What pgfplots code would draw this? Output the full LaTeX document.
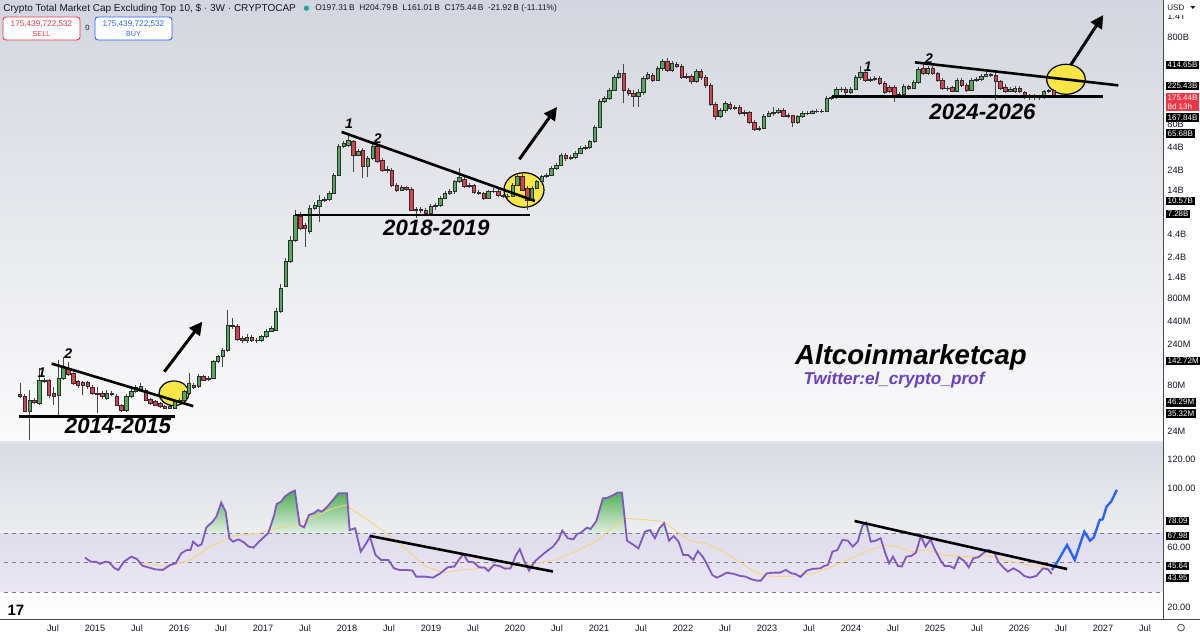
\documentclass[border=0pt]{standalone}
\usepackage{fontspec}
\setmainfont{Liberation Sans}
\usepackage{pgfplots}
\pgfplotsset{compat=1.18}
\usepackage{pgfplotstable}
\usetikzlibrary{arrows.meta}

\definecolor{bgtop}{RGB}{211,214,222}
\definecolor{bgbot}{RGB}{250,250,251}
\definecolor{rbgtop}{RGB}{216,219,226}
\definecolor{upc}{RGB}{82,170,92}
\definecolor{downc}{RGB}{222,62,78}
\definecolor{borderc}{RGB}{45,45,45}
\definecolor{wickc}{RGB}{70,70,70}
\definecolor{tickc}{RGB}{19,23,34}
\definecolor{rsipurple}{RGB}{126,87,194}
\definecolor{mayellow}{RGB}{244,212,125}
\definecolor{projblue}{RGB}{41,98,255}
\definecolor{rsigreen}{RGB}{76,175,80}
\definecolor{rsigreenlight}{RGB}{225,238,226}
\definecolor{ellyellow}{RGB}{247,230,70}
\definecolor{sepc}{RGB}{70,72,80}
\definecolor{panesep}{RGB}{224,227,235}
\definecolor{tvred}{RGB}{242,54,69}
\definecolor{tvteal}{RGB}{38,166,154}
\definecolor{twpurple}{RGB}{106,64,196}
\definecolor{dashc}{RGB}{125,128,138}

\newcommand{\tickfont}{\fontsize{4.6}{5.2}\selectfont}
\newcommand{\lblfont}{\fontsize{4.0}{4.7}\selectfont}

% candles: index, open, high, low, close (billions USD)
\pgfplotstableread{
i o h l c
0 0.0635 0.0862 0.0569 0.0596
1 0.0596 0.0640 0.0392 0.0401
2 0.0401 0.0711 0.0189 0.0545
3 0.0545 0.0575 0.0491 0.0513
4 0.0502 0.126 0.0477 0.0926
5 0.0926 0.0976 0.0855 0.0885
6 0.0909 0.0951 0.0569 0.0623
7 0.0651 0.0775 0.0477 0.0596
8 0.0623 0.157 0.0336 0.0969
9 0.0969 0.171 0.0926 0.131
10 0.126 0.149 0.103 0.1076
11 0.110 0.1146 0.0811 0.0848
12 0.0885 0.0926 0.0749 0.0798
13 0.0872 0.0902 0.0623 0.0798
14 0.0862 0.0902 0.0730 0.0775
15 0.0764 0.0811 0.0623 0.0651
16 0.0651 0.0770 0.0384 0.0635
17 0.0651 0.0693 0.0560 0.0596
18 0.0569 0.0711 0.0545 0.0651
19 0.0651 0.0693 0.0607 0.0635
20 0.0607 0.0640 0.0465 0.0477
21 0.0477 0.0491 0.0401 0.0411
22 0.0411 0.0640 0.0397 0.0607
23 0.0596 0.0730 0.0575 0.0680
24 0.0680 0.0811 0.0656 0.0755
25 0.0711 0.0855 0.0693 0.0775
26 0.0711 0.0749 0.0531 0.0545
27 0.0556 0.0575 0.0477 0.0499
28 0.0521 0.0545 0.0465 0.0477
29 0.0499 0.0517 0.0442 0.0457
30 0.0457 0.0477 0.0430 0.0439
31 0.0439 0.0491 0.0430 0.0457
32 0.0439 0.0545 0.0430 0.0521
33 0.0521 0.0575 0.0505 0.0545
34 0.0545 0.0711 0.0531 0.0680
35 0.0651 0.110 0.0623 0.0848
36 0.0811 0.0855 0.0730 0.0770
37 0.0775 0.108 0.0749 0.101
38 0.101 0.1056 0.0902 0.0926
39 0.0976 0.103 0.0902 0.0938
40 0.0969 0.157 0.0951 0.150
41 0.150 0.181 0.146 0.171
42 0.171 0.216 0.131 0.205
43 0.205 0.590 0.194 0.397
44 0.397 0.478 0.357 0.380
45 0.380 0.408 0.260 0.272
46 0.282 0.297 0.247 0.262
47 0.262 0.313 0.247 0.289
48 0.289 0.305 0.253 0.262
49 0.262 0.282 0.247 0.267
50 0.262 0.305 0.253 0.292
51 0.292 0.357 0.282 0.339
52 0.339 0.386 0.330 0.364
53 0.348 0.622 0.339 0.564
54 0.564 1.175 0.546 1.049
55 1.10 2.34 1.08 2.12
56 2.12 4.18 2.05 3.76
57 3.76 8.33 3.57 7.30
58 6.98 7.90 4.90 5.13
59 5.60 5.90 3.15 5.13
60 4.68 9.50 4.41 8.71
61 8.71 10.3 8.33 9.50
62 9.09 12.4 6.11 10.85
63 10.85 11.8 10.3 11.14
64 11.14 13.8 10.6 12.95
65 12.95 22.2 12.7 21.0
66 21.0 47.8 20.5 44.5
67 44.5 51.7 43.0 48.6
68 46.5 63.4 44.2 53.1
69 50.8 53.1 22.9 35.7
70 35.7 41.8 34.8 38.9
71 40.7 43.0 19.4 26.2
72 26.2 34.8 20.1 32.7
73 32.7 49.1 31.3 44.5
74 44.5 46.5 29.1 29.9
75 31.3 33.0 22.8 24.0
76 24.0 26.9 22.2 24.7
77 23.6 25.3 15.3 16.1
78 16.1 17.0 13.4 14.14
79 14.14 16.1 13.8 15.0
80 15.0 15.7 13.8 14.5
81 14.5 15.3 8.1 8.33
82 8.33 9.09 6.69 8.5
83 8.5 8.9 7.7 8.33
84 8.33 8.8 7.1 7.63
85 7.63 9.8 7.3 9.09
86 9.09 10.0 8.33 9.50
87 9.50 12.0 8.9 11.35
88 11.35 13.8 11.1 12.95
89 12.95 14.5 12.4 13.5
90 13.5 18.42 12.7 17.6
91 17.6 25.3 17.0 19.8
92 18.6 19.9 14.9 15.7
93 15.7 17.0 14.9 16.1
94 16.1 16.6 12.7 13.2
95 13.2 14.1 12.4 12.95
96 12.95 13.4 10.85 11.35
97 11.35 14.14 11.1 13.5
98 13.5 14.9 13.1 13.8
99 13.8 14.5 11.8 12.4
100 12.4 12.7 11.5 11.9
101 11.9 12.7 11.1 12.1
102 12.1 17.0 11.8 16.1
103 16.1 21.6 15.7 20.1
104 20.1 22.8 13.8 14.14
105 14.8 15.7 8.33 10.85
106 10.85 15.7 10.6 14.8
107 14.8 18.42 14.5 17.6
108 17.6 21.0 17.0 20.1
109 20.1 22.2 19.4 21.0
110 21.0 26.6 20.5 25.1
111 25.1 28.9 24.0 27.4
112 27.4 37.6 26.6 35.7
113 35.7 37.6 30.5 32.7
114 32.7 35.7 31.3 33.6
115 33.6 39.6 32.1 37.3
116 37.3 45.3 36.3 42.6
117 42.6 46.5 40.7 43.7
118 43.7 53.1 41.8 50.8
119 50.8 78.9 49.5 74.4
120 74.4 157 72.9 146
121 146 168 141 160
122 160 210 153 199
123 199 296 194 279
124 279 338 267 310
125 310 397 140 199
126 199 210 171 183
127 183 199 128 170
128 170 205 128 190
129 190 290 176 272
130 272 322 260 302
131 297 313 247 260
132 260 374 253 354
133 354 453 330 422
134 422 465 322 338.5
135 338.5 430 322 404
136 397 418 356 370
137 370 397 267 279
138 279 313 267 290
139 283 305 233 248
140 248 347 240 324
141 324 347 260 279
142 279 297 210 223
143 223 240 130.5 136.5
144 136.5 145 90.1 100.1
145 100.1 124 95 115.2
146 115.2 149 108 140
147 138 145 117.4 122.9
148 122.9 134 117.4 126
149 126 134 103 107.5
150 107.5 117.4 100 110
151 110 114 81 83.9
152 83.9 90.1 67.4 70.5
153 70.5 77 67.4 72.2
154 72.2 105 71 100.1
155 100.1 114 98 107.5
156 107.5 128 100 110
157 110 124 105 117.4
158 117.4 124 97.5 100.1
159 100.1 107.5 95 101.5
160 101.5 103 75.5 83.9
161 83.9 103 81 98.4
162 98.4 114 95 107.5
163 107.5 114 103 108.5
164 108.5 117.4 105 112.2
165 112.2 119 108.5 113
166 113 120.5 108.5 114.3
167 114.3 168 111 160
168 160 172 153 162.7
169 162.7 215 158 203
170 203 215 189 205
171 205 215 176 185.6
172 185.6 215 180 203
173 203 297 199 279
174 279 376 260 315
175 315 330 247 260
176 260 283 247 265
177 265 290 253 272
178 272 290 227 238
179 238 253 180 185.6
180 214 227 183 190.6
181 214 227 146 174.7
182 174.7 189 165 177
183 177 233 170 217
184 217 227 199 211
185 211 260 210 242
186 242 367 233 345
187 354 397 297 310
188 310 374 297 354
189 354 374 297 310
190 310 322 247 260
191 260 272 199 208.6
192 208.6 221 194 210
193 212 221 189 194.5
194 194.5 272 189 260
195 260 272 215 227.6
196 227.6 240 189 199.4
197 199.4 272 194 260
198 260 283 247 263
199 263 305 253 290
200 290 322 279 305
201 305 313 279 297
202 297 313 153 248
203 248 260 199 208.6
204 215 233 183 190.6
205 190.6 215 189 201
206 190.6 221 183 208.6
207 208.6 221 183 190.6
208 185.6 194.5 158 167.1
209 167.1 180 155 170
210 170 180 155 165
211 165 174.7 155 167
212 167 199.4 158 190.6
213 190.6 205 186 197.31
214 197.31 204.79 161.01 175.44
}\candles

% RSI (14) of the index
\pgfplotstableread{
i r
13.48 53.3
14.63 50.6
15.77 50.6
16.54 49.1
17.69 50.6
18.45 50.2
19.60 46.1
20.37 45.0
21.52 50.6
23.05 54.0
24.20 52.4
25.35 47.9
26.50 46.8
28.03 45.4
29.56 45.0
31.09 48.4
32.24 49.5
33.39 56.3
34.54 58.5
35.30 58.5
35.84 64.1
36.84 61.2
37.60 62.3
38.60 73.8
39.90 77.7
40.67 81.1
41.66 90.5
42.58 84.4
43.35 66.4
44.11 64.1
45.26 65.7
46.41 63.5
47.33 60.8
48.33 60.1
49.48 64.1
50.47 67.1
51.39 69.8
52.54 81.1
53.15 89.6
54.07 91.2
54.84 94.6
55.99 97.3
56.91 98.6
57.90 75.4
58.82 73.8
59.82 82.2
60.81 83.3
61.73 85.5
62.50 84.4
63.64 87.8
64.79 92.3
65.94 96.8
67.70 96.8
68.24 72.0
69.39 73.2
70.54 57.4
71.69 63.0
72.45 67.5
73.60 55.1
74.75 51.8
76.28 51.8
77.43 46.1
78.58 45.0
80.11 45.0
81.26 44.6
82.03 40.5
83.94 40.5
85.47 39.8
87.01 42.7
88.54 46.8
89.92 47.3
90.84 51.8
91.83 55.8
92.75 50.6
93.90 50.2
95.05 46.8
96.20 46.6
96.96 44.3
98.11 48.4
99.26 47.7
100.41 45.9
101.56 46.1
102.71 55.1
103.47 59.0
104.47 50.6
105.39 44.6
106.54 50.6
107.69 54.0
109.22 58.1
110.37 60.8
111.52 65.7
112.28 71.6
113.43 66.4
114.58 65.7
115.35 69.3
116.16 70.2
117.35 73.6
118.14 72.7
119.33 78.1
120.67 93.4
121.70 93.9
122.89 95.7
123.69 97.3
124.64 97.3
125.67 64.8
126.86 62.3
128.04 59.6
129.39 70.9
130.42 72.0
131.45 66.4
132.40 73.2
133.35 76.5
134.38 64.8
135.33 68.0
136.36 64.1
137.32 55.1
138.35 55.1
139.38 51.8
140.33 57.8
141.36 54.0
142.31 48.4
143.34 41.6
144.29 39.8
145.48 41.6
146.27 43.2
147.85 42.3
149.04 41.0
150.23 40.5
151.42 38.7
152.61 37.8
153.40 37.8
154.59 42.7
156.17 43.2
157.36 43.2
158.55 45.0
159.74 42.7
160.53 42.3
161.56 40.3
162.91 44.6
164.10 45.7
165.68 46.1
166.48 47.7
167.27 48.4
168.22 57.4
169.25 58.5
170.28 65.3
171.39 64.8
172.42 60.8
173.45 64.1
174.40 74.7
175.19 77.0
176.14 64.1
177.17 64.8
178.20 66.4
179.15 56.3
179.95 49.5
180.74 54.0
181.77 47.7
182.56 47.3
183.51 54.0
184.54 54.5
185.49 56.7
186.52 68.0
187.47 60.8
188.50 65.7
189.46 58.5
190.64 51.3
191.44 47.7
192.47 47.7
193.42 46.1
194.37 53.6
195.40 51.3
196.43 46.8
197.38 52.9
198.41 53.6
199.60 56.7
200.55 58.5
201.74 56.7
202.53 50.6
203.56 46.8
204.51 43.9
205.70 46.1
206.89 43.9
207.92 41.0
209.11 39.8
210.45 41.0
211.80 46.1
212.83 45.5
213.62 42.3
}\rsidata

% moving average of RSI
\pgfplotstableread{
i r
25.7 49.5
29.6 47.7
32.6 49.0
35.7 52.5
38.75 59.6
43.35 67.1
45.6 68.7
49.5 69.8
53.3 73.2
57.1 75.4
61.0 81.1
64.8 86.7
67.5 88.9
69.4 84.4
72.5 77.7
76.3 68.7
80.1 58.5
84.0 47.3
87.8 43.2
91.6 45.0
95.4 46.1
99.3 47.3
103.1 47.7
107.0 49.5
110.8 51.8
115.8 58.5
119.7 65.3
123.7 76.5
125.7 79.9
130.0 78.8
133.2 77.7
135.6 72.0
138.7 64.8
141.9 63.0
145.1 58.5
148.3 51.8
151.4 45.0
154.6 41.0
157.8 40.5
160.9 41.0
164.1 42.7
167.3 46.1
170.4 50.6
173.6 55.1
176.8 59.6
179.2 61.9
181.5 60.8
184.7 57.4
187.9 58.5
191.0 55.1
194.2 54.0
197.4 54.0
200.5 54.5
203.7 51.8
206.9 49.5
210.1 47.7
212.8 46.8
}\madata

% hand-drawn projection
\pgfplotstableread{
i r
213.62 45.0
214.81 50.6
216.79 61.9
218.38 51.8
220.36 70.9
221.55 64.8
222.34 67.1
223.53 78.8
224.16 79.2
224.96 87.8
225.91 91.2
227.09 99.1
}\projdata

\pgfplotstablegetrowsof{\candles}
\pgfmathtruncatemacro{\lastrow}{\pgfplotsretval-1}

\pgfplotsset{
  wickline/.style={forget plot, draw=wickc, line width=0.45pt},
  candleUp/.style={forget plot, fill=upc, draw=borderc, line width=0.3pt},
  candleDown/.style={forget plot, fill=downc, draw=borderc, line width=0.3pt},
}
\tikzset{
  pl/.style={fill=black, text=white, font=\lblfont, inner xsep=0.8pt, inner ysep=0.8pt, anchor=west},
  ann/.style={font=\fontsize{11.1}{12}\selectfont\bfseries\itshape, text=black},
  num/.style={font=\fontsize{7}{8}\selectfont\bfseries\itshape, text=black},
  arr/.style={line width=1.5pt, black, -{Triangle[length=6.5pt,width=6.5pt]}},
}

\begin{document}
\begin{tikzpicture}
\useasboundingbox (0pt,0pt) rectangle (600pt,317.5pt);
\fill[white] (0pt,0pt) rectangle (600pt,317.5pt);

% ---------------- main pane ----------------
\begin{axis}[
  at={(0pt,317.5pt)}, anchor=north west,
  scale only axis, width=581.5pt, height=220.5pt,
  xmin=-4.14, xmax=236.65,
  ymode=log, ymin=0.01842, ymax=2159,
  axis line style={draw=none},
  xtick=\empty,
  ytick={0.024,0.08,0.24,0.44,0.8,1.4,2.4,4.4,14,24,44,80,800,1400},
  yticklabels={24M,80M,240M,440M,800M,1.4B,2.4B,4.4B,14B,24B,44B,80B,800B,1.4T},
  yticklabel pos=right,
  major tick length=0pt,
  yticklabel style={font=\tickfont, text=tickc, anchor=west, inner sep=0pt, xshift=2pt},
  axis background/.style={shade, top color=bgtop, bottom color=bgbot},
]
% highlight ellipses (behind candles)
\draw[fill=ellyellow, draw=black, line width=0.6pt] (axis cs:31.88,0.0651) ellipse [x radius=7.5pt, y radius=6.15pt];
\draw[fill=ellyellow, draw=black, line width=0.6pt] (axis cs:104.35,14.14) ellipse [x radius=10pt, y radius=8.65pt];
\draw[fill=ellyellow, draw=black, line width=0.6pt] (axis cs:216.56,264.7) ellipse [x radius=9.65pt, y radius=7.5pt];

\pgfplotsforeachungrouped \cidx in {0,...,\lastrow}{%
  \pgfplotstablegetelem{\cidx}{i}\of\candles\let\ci\pgfplotsretval
  \pgfplotstablegetelem{\cidx}{o}\of\candles\let\co\pgfplotsretval
  \pgfplotstablegetelem{\cidx}{h}\of\candles\let\ch\pgfplotsretval
  \pgfplotstablegetelem{\cidx}{l}\of\candles\let\cl\pgfplotsretval
  \pgfplotstablegetelem{\cidx}{c}\of\candles\let\cc\pgfplotsretval
  \pgfmathsetmacro{\xa}{\ci-0.36}%
  \pgfmathsetmacro{\xb}{\ci+0.36}%
  \ifdim\cc pt<\co pt\def\cst{candleDown}\else\def\cst{candleUp}\fi
  \edef\doplot{%
    \noexpand\addplot[wickline] coordinates {(\ci,\cl) (\ci,\ch)};
    \noexpand\addplot[\cst] coordinates {(\xa,\co) (\xb,\co) (\xb,\cc) (\xa,\cc)} -- cycle;
  }\doplot
}

% trend lines
\addplot[black, line width=1.3pt, forget plot] coordinates {(-0.14,0.03532) (32.1,0.03532)};
\addplot[black, line width=1.3pt, forget plot] coordinates {(6.56,0.14272) (35.88,0.04629)};
\addplot[black, line width=1.3pt, forget plot] coordinates {(56.9,7.28) (105.6,7.28)};
\addplot[black, line width=1.3pt, forget plot] coordinates {(66.6,65.68) (106.6,10.57)};
\addplot[black, line width=1.3pt, forget plot] coordinates {(168.1,167.84) (224.3,167.84)};
\addplot[black, line width=1.3pt, forget plot] coordinates {(185.3,414.65) (227.4,225.43)};
\end{axis}

% ---------------- RSI pane ----------------
\begin{axis}[
  at={(0pt,96pt)}, anchor=north west,
  scale only axis, width=581.5pt, height=88.5pt,
  xmin=-4.14, xmax=236.65,
  ymin=11.2, ymax=130.8,
  axis line style={draw=none},
  major tick length=0pt,
  ytick={20,60,100,120},
  yticklabels={20.00,60.00,100.00,120.00},
  yticklabel pos=right,
  yticklabel style={font=\tickfont, text=tickc, anchor=west, inner sep=0pt, xshift=2pt},
  xtick={6.832,15.528,24.224,32.919,41.615,50.311,59.006,67.702,76.398,85.093,93.789,102.484,111.180,119.876,128.571,137.267,145.963,154.658,163.354,172.050,180.745,189.441,198.137,206.832,215.528,224.224,232.919},
  xticklabels={Jul,2015,Jul,2016,Jul,2017,Jul,2018,Jul,2019,Jul,2020,Jul,2021,Jul,2022,Jul,2023,Jul,2024,Jul,2025,Jul,2026,Jul,2027,Jul},
  xticklabel style={font=\tickfont, text=tickc, anchor=center, inner sep=0pt, yshift=-4pt},
  axis background/.style={shade, top color=rbgtop, bottom color=white},
]
\addplot[draw=none, fill=rsipurple, fill opacity=0.11, forget plot] coordinates {(-5,30) (240,30) (240,70) (-5,70)} -- cycle;
\addplot[dashc, line width=0.35pt, dash pattern=on 2pt off 2pt, forget plot] coordinates {(-5,70) (240,70)};
\addplot[dashc, line width=0.35pt, dash pattern=on 2pt off 2pt, forget plot] coordinates {(-5,50) (240,50)};
\addplot[dashc, line width=0.35pt, dash pattern=on 2pt off 2pt, forget plot] coordinates {(-5,30) (240,30)};

% overbought area above 70
\addplot[draw=none, top color=rsigreen, bottom color=rsigreenlight, forget plot]
  table[x=i, y expr={max(\thisrow{r},70)}]{\rsidata} -- (axis cs:213.62,70) -- (axis cs:13.48,70) -- cycle;

\addplot[mayellow, line width=0.45pt, forget plot] table[x=i, y=r]{\madata};
\addplot[rsipurple, line width=0.9pt, forget plot] table[x=i, y=r]{\rsidata};
\addplot[projblue, line width=1.2pt, forget plot] table[x=i, y=r]{\projdata};

\addplot[black, line width=1.3pt, forget plot] coordinates {(72.46,67.98) (110.35,43.95)};
\addplot[black, line width=1.3pt, forget plot] coordinates {(172.8,78.09) (216.8,45.64)};
\end{axis}

\begin{scope}[x=1pt,y=1pt]
% ---------------- frame / separators ----------------
\fill[panesep] (0,96) rectangle (581.5,97);
\draw[sepc, line width=0.5pt] (581.5,7.5) -- (581.5,317.5);
\draw[sepc, line width=0.5pt] (0,7.5) -- (600,7.5);

% USD header of price scale
\fill[white] (581.75,310.2) rectangle (600,317.5);
\node[font=\lblfont, text=tickc, anchor=west, inner sep=0pt] at (583.5,313.8) {USD};
\fill[tickc] (595.2,314.4) -- (597.6,314.4) -- (596.4,313.0) -- cycle;
% gear icon
\draw[tickc!70, line width=0.45pt] (590.5,3.7) circle (1.7pt);

% price labels
\node[pl] at (582.8,285) {414.65B};
\node[pl] at (582.8,274.5) {225.43B};
\node[pl, fill=tvred, align=left] at (582.8,266.3) {175.44B\\8d 13h};
\node[pl] at (582.8,258.6) {167.84B};
\node[pl] at (582.8,250.8) {65.68B};
\node[pl] at (582.8,217) {10.57B};
\node[pl] at (582.8,210.5) {7.28B};
\node[pl] at (582.8,137) {142.72M};
\node[pl] at (582.8,116.4) {46.29M};
\node[pl] at (582.8,110.8) {35.32M};
\node[pl] at (582.8,57) {78.09};
\node[pl] at (582.8,49.5) {67.98};
\node[pl] at (582.8,34.5) {45.64};
\node[pl] at (582.8,28.5) {43.95};

% header
\node[font=\fontsize{5}{6}\selectfont, text=tickc, anchor=west, inner sep=0pt] at (1.5,313.2) {Crypto Total Market Cap Excluding Top 10, \$ · 3W · CRYPTOCAP};
\fill[tvteal!35] (153.2,313.4) circle (2.1pt);
\fill[tvteal] (153.2,313.4) circle (1.3pt);
\node[font=\fontsize{4.2}{5}\selectfont, text=tickc, anchor=west, inner sep=0pt] at (157.5,313.2) {O197.31\,B\ \ H204.79\,B\ \ L161.01\,B\ \ C175.44\,B\ \ -21.92\,B (-11.11\%)};
\draw[tvred, fill=white, rounded corners=1.5pt, line width=0.45pt] (1.5,297.5) rectangle (40,309);
\node[font=\fontsize{4.1}{5}\selectfont, text=tvred, inner sep=0pt] at (20.75,305.3) {175,439,722,532};
\node[font=\fontsize{3.6}{4.5}\selectfont, text=tvred, inner sep=0pt] at (20.75,300.4) {SELL};
\node[font=\fontsize{3.8}{4.5}\selectfont, text=tickc, inner sep=0pt] at (43.8,303.3) {0};
\draw[projblue, fill=white, rounded corners=1.5pt, line width=0.45pt] (47.5,297.5) rectangle (86,309);
\node[font=\fontsize{4.1}{5}\selectfont, text=projblue, inner sep=0pt] at (66.75,305.3) {175,439,722,532};
\node[font=\fontsize{3.6}{4.5}\selectfont, text=projblue, inner sep=0pt] at (66.75,300.4) {BUY};

% TradingView logo
\node[font=\fontsize{7.5}{8}\selectfont\bfseries, text=black, inner sep=0pt] at (8,12.5) {17};

% annotations
\node[ann] at (59,104.65) {2014-2015};
\node[ann] at (218.15,203.65) {2018-2019};
\node[ann] at (491.25,261.65) {2024-2026};
\node[font=\fontsize{13.8}{15}\selectfont\bfseries\itshape, text=black] at (455.5,139) {Altcoinmarketcap};
\node[font=\fontsize{8.6}{10}\selectfont\bfseries\itshape, text=twpurple] at (447,127.5) {Twitter:el\_crypto\_prof};
\node[num] at (20.85,131.35) {1};
\node[num] at (34.15,140.5) {2};
\node[num] at (174.5,255.5) {1};
\node[num] at (188.85,248) {2};
\node[num] at (433.85,284.15) {1};
\node[num] at (464.5,288.35) {2};

\draw[arr] (82.15,131.65) -- (101.15,156.65);
\draw[arr] (259.65,237.85) -- (278.5,264);
\draw[arr] (535.35,285) -- (551.65,310);
\end{scope}
\end{tikzpicture}
\end{document}
